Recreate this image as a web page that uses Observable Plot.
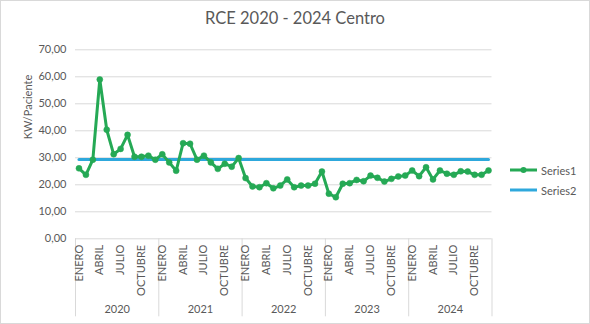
<!DOCTYPE html>
<html>
<head>
<meta charset="utf-8">
<script src="https://cdn.jsdelivr.net/npm/d3@7"></script>
<script src="https://cdn.jsdelivr.net/npm/@observablehq/plot@0.6"></script>
<style>
  html, body { margin: 0; padding: 0; background: #fff; }
  #chart { position: relative; width: 590px; height: 324px; font-family: Lato, "Open Sans", sans-serif; color: #595959; }
  #chart svg { position: absolute; left: 0; top: 0; outline: 1px solid #d9d9d9; outline-offset: -1px; }
  #title { position: absolute; left: 0; width: 590px; top: 8px; text-align: center; font-size: 16.5px; color: #595959; }
  #legend { position: absolute; left: 509px; top: 160px; font-size: 11px; color: #595959; }
  .item { display: flex; align-items: center; height: 20px; }
  .item svg { position: static !important; outline: none !important; margin-right: 3px; }
</style>
</head>
<body>
<div id="chart">
  <div id="title">RCE 2020 - 2024 Centro</div>
  <div id="legend"></div>
</div>
<script>
const title = "RCE 2020 - 2024 Centro";
const yLabel = "KW/Paciente";
const years = [2020, 2021, 2022, 2023, 2024];
const months = ["ENERO","FEBRERO","MARZO","ABRIL","MAYO","JUNIO","JULIO","AGOSTO","SEPTIEMBRE","OCTUBRE","NOVIEMBRE","DICIEMBRE"];
const shownMonths = ["ENERO","ABRIL","JULIO","OCTUBRE"];
const yTicks = [0, 10, 20, 30, 40, 50, 60, 70];
const seriesNames = ["Series1", "Series2"];
const series1 = [
  26.1, 23.7, 29.3, 59.0, 40.4, 31.3, 33.3, 38.5, 30.4, 30.4, 30.8, 29.3,
  31.3, 28.3, 25.2, 35.4, 35.2, 29.3, 30.8, 28.3, 25.9, 27.8, 26.7, 29.9,
  22.5, 19.4, 19.1, 20.6, 18.7, 19.7, 22.0, 19.1, 19.7, 19.7, 20.4, 24.9,
  16.7, 15.4, 20.4, 20.6, 21.8, 21.3, 23.4, 22.6, 21.2, 22.2, 23.1, 23.4,
  25.3, 23.2, 26.5, 22.0, 25.3, 24.1, 23.7, 25.0, 24.9, 23.7, 23.7, 25.3
];
const series2 = [
  29.4, 29.4, 29.4, 29.4, 29.4, 29.4, 29.4, 29.4, 29.4, 29.4, 29.4, 29.4,
  29.4, 29.4, 29.4, 29.4, 29.4, 29.4, 29.4, 29.4, 29.4, 29.4, 29.4, 29.4,
  29.4, 29.4, 29.4, 29.4, 29.4, 29.4, 29.4, 29.4, 29.4, 29.4, 29.4, 29.4,
  29.4, 29.4, 29.4, 29.4, 29.4, 29.4, 29.4, 29.4, 29.4, 29.4, 29.4, 29.4,
  29.4, 29.4, 29.4, 29.4, 29.4, 29.4, 29.4, 29.4, 29.4, 29.4, 29.4, 29.4
];
const colors = ["#25a955", "#2ea8dc"];

const rows = series1.map((v, i) => ({
  i, year: years[Math.floor(i / 12)], month: months[i % 12], s1: v, s2: series2[i]
}));
const monthTicks = rows.filter(d => shownMonths.includes(d.month)).map(d => d.i);
const yearCenters = years.map((y, k) => k * 12 + 5.5);
const separators = d3.range(years.length + 1).map(k => k * 12 - 0.5);
const fmt = d => d.toFixed(2).replace(".", ",");

const plot = Plot.plot({
  width: 590,
  height: 324,
  marginLeft: 75,
  marginRight: 98.5,
  marginTop: 49.3,
  marginBottom: 85.7,
  x: { type: "linear", domain: [-0.5, rows.length - 0.5], axis: null },
  y: { domain: [0, 70], axis: null },
  style: { fontFamily: "Lato, 'Open Sans', sans-serif", fontSize: "11px", color: "#595959", background: "transparent" },
  marks: [
    Plot.ruleY(yTicks, { stroke: "#d9d9d9", strokeWidth: 1 }),
    Plot.axisY({ ticks: yTicks, tickSize: 0, tickPadding: 9, tickFormat: fmt, label: null, fill: "#595959" }),
    Plot.axisX({ ticks: separators, tickSize: 78, tickFormat: () => "", stroke: "#d9d9d9", label: null }),
    Plot.axisX({ ticks: monthTicks, tickFormat: i => months[i % 12], tickRotate: -90, tickSize: 0, tickPadding: 6, label: null, fill: "#595959" }),
    Plot.axisX({ ticks: yearCenters, tickFormat: (c, k) => String(years[Math.round((c - 5.5) / 12)]), tickSize: 0, tickPadding: 66, label: null, fill: "#595959" }),
    Plot.text([yLabel], { frameAnchor: "left", rotate: -90, dx: -47, dy: -5, fontSize: 11, fill: "#595959" }),
    Plot.lineY(rows, { x: "i", y: "s2", stroke: colors[1], strokeWidth: 3 }),
    Plot.lineY(rows, { x: "i", y: "s1", stroke: colors[0], strokeWidth: 3 }),
    Plot.dot(rows, { x: "i", y: "s1", r: 3, fill: colors[0], stroke: colors[0], strokeWidth: 0.5 })
  ]
});
document.getElementById("chart").prepend(plot);

const legend = document.getElementById("legend");
seriesNames.forEach((name, k) => {
  const item = document.createElement("div");
  item.className = "item";
  const sw = d3.create("svg").attr("width", 29).attr("height", 10);
  sw.append("line").attr("x1", 1).attr("x2", 28).attr("y1", 5).attr("y2", 5)
    .attr("stroke", colors[k]).attr("stroke-width", 3);
  if (k === 0) sw.append("circle").attr("cx", 14.5).attr("cy", 5).attr("r", 3).attr("fill", colors[k]);
  item.appendChild(sw.node());
  const t = document.createElement("span");
  t.textContent = name;
  item.appendChild(t);
  legend.appendChild(item);
});
</script>
</body>
</html>
